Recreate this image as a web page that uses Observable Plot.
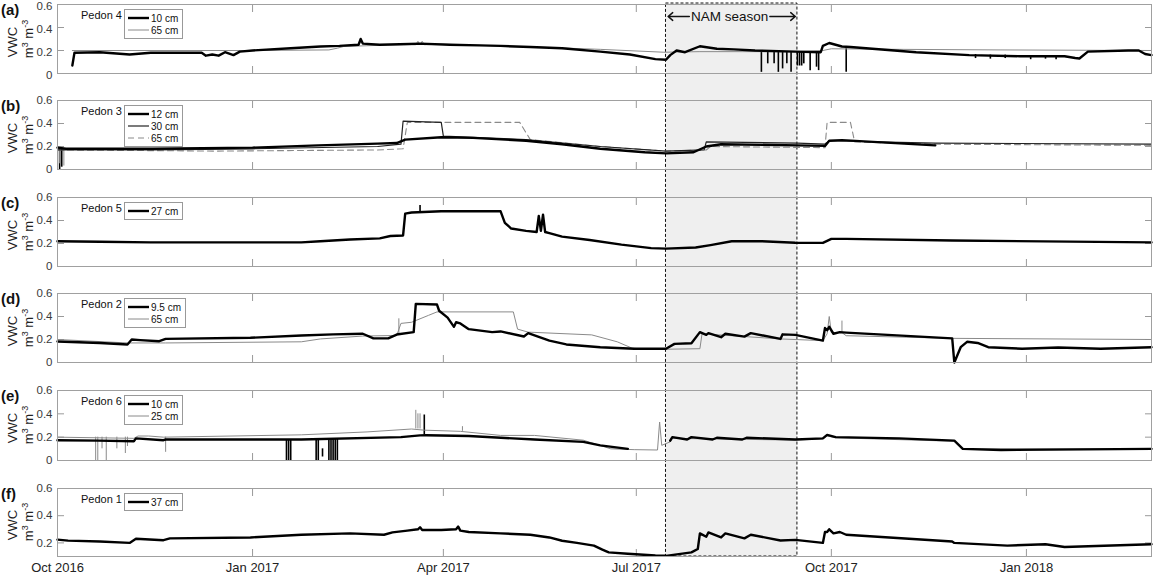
<!DOCTYPE html>
<html><head><meta charset="utf-8">
<script src="https://cdn.jsdelivr.net/npm/d3@7"></script>
<script src="https://cdn.jsdelivr.net/npm/@observablehq/plot@0.6"></script>
<style>
body{margin:0;background:#fff;font-family:"Liberation Sans",Arial,sans-serif;}
#chart{position:relative;width:1154px;height:576px;overflow:hidden;background:#fff}
#chart > svg{position:absolute;left:0}
.tag{position:absolute;left:1px;font-weight:bold;font-size:15px;color:#111;line-height:1}
.ylab{position:absolute;transform:translate(-50%,-50%) rotate(-90deg);white-space:nowrap;color:#222;line-height:1}
.pedon{position:absolute;font-size:11px;color:#111;line-height:1}
.legend{position:absolute;border:1px solid #999;background:#fff;padding:2px 4px 2px 3px;font-size:10px;color:#111}
.legend .row{display:flex;align-items:center;height:12px}
#chart .legend svg{position:static;display:block;margin-right:2px}
</style></head>
<body><div id="chart"></div>
<script>
// ---------- data ----------
const xDomain = ["2016-10-01", "2018-03-01"];
const xTickDates = ["2016-10-01","2017-01-01","2017-04-01","2017-07-01","2017-10-01","2018-01-01"];
const nam = {start: "2017-07-15", end: "2017-09-15", label: "NAM season", mid: "2017-08-14"};
const namArrows = [["2017-07-26","2017-07-16"],["2017-09-02","2017-09-14"]];

// Panel (a) Pedon 4
const a10 = [["2016-10-08",0.07],["2016-10-09",0.18],["2016-10-21",0.185],["2016-11-04",0.165],["2016-11-14",0.18],["2016-12-08",0.18],["2016-12-10",0.155],["2016-12-13",0.165],["2016-12-16",0.155],["2016-12-19",0.185],["2016-12-23",0.16],["2016-12-26",0.19],["2017-01-01",0.2],["2017-01-19",0.22],["2017-02-02",0.235],["2017-02-11",0.24],["2017-02-20",0.25],["2017-02-21",0.30],["2017-02-22",0.26],["2017-03-02",0.25],["2017-03-21",0.26],["2017-04-04",0.25],["2017-04-18",0.245],["2017-04-28",0.24],["2017-05-12",0.23],["2017-05-27",0.22],["2017-06-14",0.19],["2017-06-28",0.165],["2017-07-10",0.125],["2017-07-15",0.12],["2017-07-17",0.16],["2017-07-20",0.2],["2017-07-24",0.185],["2017-07-31",0.237],["2017-08-08",0.215],["2017-08-16",0.21],["2017-08-26",0.2],["2017-09-14",0.19],["2017-09-26",0.185],["2017-09-27",0.24],["2017-09-30",0.265],["2017-10-06",0.235],["2017-10-10",0.23],["2017-11-10",0.185],["2017-12-05",0.16],["2017-12-29",0.15],["2018-01-19",0.15],["2018-01-24",0.135],["2018-01-26",0.13],["2018-01-30",0.19],["2018-02-18",0.2],["2018-02-23",0.2],["2018-02-26",0.17],["2018-03-01",0.16]];
const a65 = [["2016-10-08",0.2],["2017-01-01",0.2],["2017-02-06",0.205],["2017-02-10",0.22],["2017-02-13",0.235],["2017-03-02",0.245],["2017-03-19",0.25],["2017-03-20",0.28],["2017-03-21",0.25],["2017-03-22",0.28],["2017-03-23",0.25],["2017-03-31",0.255],["2017-04-18",0.245],["2017-05-22",0.225],["2017-06-14",0.21],["2017-07-14",0.185],["2017-07-31",0.19],["2017-09-14",0.19],["2017-09-27",0.2],["2017-10-01",0.215],["2017-11-02",0.21],["2017-12-20",0.205],["2018-03-01",0.2]];
const a10Drops = [["2017-08-29",0.01,0.19],["2017-09-01",0.084,0.19],["2017-09-04",0.084,0.19],["2017-09-06",0.01,0.19],["2017-09-08",0.04,0.19],["2017-09-10",0.084,0.19],["2017-09-12",0.01,0.19],["2017-09-15",0.065,0.19],["2017-09-16",0.065,0.19],["2017-09-17",0.065,0.19],["2017-09-18",0.084,0.19],["2017-09-21",0.025,0.19],["2017-09-24",0.055,0.19],["2017-09-25",0.025,0.19],["2017-10-08",0.01,0.23],["2017-12-08",0.13,0.165],["2017-12-15",0.125,0.16],["2017-12-22",0.13,0.16],["2018-01-03",0.12,0.155],["2018-01-10",0.125,0.155],["2018-01-15",0.12,0.155]];

// Panel (b) Pedon 3
const b12 = [["2016-10-01",0.19],["2016-10-05",0.18],["2016-11-15",0.18],["2017-01-01",0.19],["2017-02-01",0.21],["2017-03-01",0.225],["2017-03-10",0.23],["2017-03-14",0.26],["2017-03-31",0.28],["2017-04-15",0.275],["2017-05-10",0.25],["2017-05-27",0.22],["2017-06-14",0.18],["2017-07-05",0.15],["2017-07-15",0.14],["2017-07-28",0.15],["2017-08-03",0.2],["2017-08-10",0.22],["2017-09-15",0.21],["2017-09-28",0.205],["2017-09-30",0.25],["2017-10-06",0.255],["2017-11-19",0.21]];
const b30 = [["2016-10-01",0.17],["2016-11-15",0.17],["2017-01-01",0.18],["2017-03-01",0.2],["2017-03-12",0.22],["2017-03-13",0.42],["2017-03-31",0.41],["2017-04-01",0.29],["2017-05-10",0.26],["2017-06-14",0.2],["2017-07-15",0.16],["2017-08-02",0.17],["2017-08-03",0.24],["2017-09-15",0.23],["2017-09-28",0.22],["2017-09-30",0.25],["2017-11-19",0.23],["2018-03-01",0.22]];
const b65 = [["2016-10-01",0.17],["2016-12-15",0.16],["2017-03-01",0.17],["2017-03-13",0.18],["2017-03-15",0.41],["2017-05-07",0.41],["2017-05-12",0.26],["2017-06-14",0.2],["2017-07-15",0.16],["2017-08-03",0.17],["2017-08-05",0.2],["2017-09-28",0.19],["2017-09-29",0.41],["2017-10-10",0.41],["2017-10-12",0.24],["2017-11-20",0.22],["2018-03-01",0.21]];
const b12Drops = [["2016-10-02",0.0,0.18],["2016-10-03",0.02,0.18]];
const b65Drops = [["2016-10-02",0.05,0.17],["2016-10-04",0.03,0.17]];

// Panel (c) Pedon 5
const c27 = [["2016-10-01",0.22],["2016-10-21",0.215],["2016-11-14",0.21],["2017-01-24",0.21],["2017-02-02",0.22],["2017-02-16",0.235],["2017-03-02",0.245],["2017-03-07",0.265],["2017-03-13",0.27],["2017-03-14",0.46],["2017-03-17",0.47],["2017-03-31",0.48],["2017-04-28",0.48],["2017-04-30",0.38],["2017-05-03",0.33],["2017-05-10",0.31],["2017-05-15",0.3],["2017-05-16",0.44],["2017-05-17",0.31],["2017-05-18",0.45],["2017-05-19",0.3],["2017-05-21",0.29],["2017-05-27",0.26],["2017-06-09",0.23],["2017-06-24",0.19],["2017-07-08",0.16],["2017-07-15",0.155],["2017-07-29",0.165],["2017-08-05",0.186],["2017-08-15",0.22],["2017-08-29",0.22],["2017-09-14",0.207],["2017-09-27",0.205],["2017-10-01",0.24],["2017-10-08",0.24],["2017-11-27",0.226],["2018-03-01",0.21]];
const c27Drops = [["2017-03-21",0.47,0.53]];

// Panel (d) Pedon 2
const d95 = [["2016-10-01",0.183],["2016-10-21",0.17],["2016-11-03",0.157],["2016-11-05",0.2],["2016-11-09",0.195],["2016-11-18",0.185],["2016-11-21",0.205],["2016-12-31",0.215],["2017-01-24",0.235],["2017-02-08",0.245],["2017-02-22",0.25],["2017-02-27",0.21],["2017-03-06",0.21],["2017-03-10",0.243],["2017-03-18",0.264],["2017-03-19",0.51],["2017-03-29",0.504],["2017-03-30",0.45],["2017-04-03",0.39],["2017-04-06",0.31],["2017-04-07",0.35],["2017-04-09",0.34],["2017-04-13",0.29],["2017-04-24",0.264],["2017-04-28",0.27],["2017-05-09",0.226],["2017-05-11",0.255],["2017-05-21",0.19],["2017-05-29",0.157],["2017-06-14",0.133],["2017-06-30",0.12],["2017-07-15",0.12],["2017-07-19",0.162],["2017-07-27",0.168],["2017-07-31",0.264],["2017-08-03",0.24],["2017-08-04",0.255],["2017-08-10",0.22],["2017-08-12",0.25],["2017-08-21",0.225],["2017-08-24",0.255],["2017-09-07",0.205],["2017-09-08",0.245],["2017-09-14",0.24],["2017-09-27",0.19],["2017-09-28",0.3],["2017-09-29",0.28],["2017-09-30",0.31],["2017-10-02",0.25],["2017-10-05",0.264],["2017-10-08",0.26],["2017-11-27",0.21],["2017-11-28",0.0],["2017-12-01",0.133],["2017-12-04",0.18],["2017-12-09",0.17],["2017-12-14",0.133],["2017-12-30",0.12],["2018-01-16",0.13],["2018-02-05",0.12],["2018-03-01",0.133]];
const d65 = [["2016-10-01",0.2],["2016-11-03",0.17],["2016-11-21",0.17],["2017-01-24",0.18],["2017-02-02",0.205],["2017-02-22",0.23],["2017-03-10",0.235],["2017-03-12",0.34],["2017-03-17",0.35],["2017-03-25",0.41],["2017-03-29",0.44],["2017-05-04",0.44],["2017-05-06",0.29],["2017-05-11",0.264],["2017-06-10",0.24],["2017-06-22",0.18],["2017-06-29",0.125],["2017-07-07",0.113],["2017-07-31",0.12],["2017-08-01",0.25],["2017-09-07",0.205],["2017-09-27",0.19],["2017-09-29",0.25],["2017-09-30",0.4],["2017-10-01",0.26],["2017-10-06",0.26],["2017-10-08",0.233],["2017-11-27",0.21],["2018-03-01",0.2]];
const d65Drops = [["2017-03-11",0.235,0.38],["2017-10-06",0.26,0.36]];

// Panel (e) Pedon 6
const e10 = [["2016-10-01",0.174],["2016-10-20",0.17],["2016-11-06",0.165],["2016-11-07",0.19],["2016-11-20",0.174],["2016-11-21",0.18],["2017-01-24",0.18],["2017-03-12",0.2],["2017-03-21",0.215],["2017-03-24",0.217],["2017-04-13",0.21],["2017-05-14",0.18],["2017-06-06",0.16],["2017-06-14",0.13],["2017-06-27",0.1],["2017-07-05",null],["2017-07-17",0.17],["2017-07-18",0.2],["2017-07-25",0.18],["2017-07-27",0.2],["2017-08-06",0.18],["2017-08-08",0.195],["2017-08-20",0.18],["2017-08-22",0.195],["2017-09-14",0.18],["2017-09-27",0.19],["2017-09-29",0.22],["2017-10-03",0.2],["2017-11-02",0.19],["2017-11-28",0.17],["2017-12-02",0.1],["2017-12-20",0.09],["2018-03-01",0.1]];
const e25 = [["2016-10-01",0.2],["2016-11-06",0.19],["2016-11-08",0.21],["2016-11-13",0.21],["2016-11-20",0.2],["2017-01-24",0.22],["2017-02-24",0.245],["2017-03-17",0.27],["2017-03-23",0.26],["2017-04-09",0.25],["2017-04-28",0.215],["2017-05-14",0.215],["2017-06-06",0.174],["2017-06-19",0.1],["2017-06-30",0.093],["2017-07-11",0.09],["2017-07-12",0.33],["2017-07-13",0.13],["2017-07-17",0.16],["2017-07-18",0.19],["2017-09-14",0.175],["2017-09-27",0.185],["2017-09-29",0.21],["2017-10-03",0.195],["2017-11-28",0.165],["2017-12-02",0.1],["2018-03-01",0.1]];
const e10Drops = [["2017-01-17",0,0.18],["2017-01-18",0,0.18],["2017-01-19",0,0.18],["2017-01-31",0,0.18],["2017-02-01",0,0.18],["2017-02-03",0.03,0.1],["2017-02-06",0,0.18],["2017-02-07",0,0.18],["2017-02-08",0,0.18],["2017-02-09",0,0.18],["2017-02-10",0,0.18],["2017-03-23",0.217,0.39]];
const e25Drops = [["2016-10-19",0,0.2],["2016-10-20",0,0.2],["2016-10-22",0.1,0.2],["2016-10-24",0,0.2],["2016-10-29",0.1,0.2],["2016-11-02",0.06,0.2],["2016-11-03",0.12,0.2],["2016-11-21",0.07,0.2],["2017-03-19",0.27,0.43],["2017-03-20",0.27,0.4],["2017-03-21",0.27,0.4],["2017-04-10",0.25,0.29]];

// Panel (f) Pedon 1
const f37 = [["2016-10-01",0.224],["2016-10-06",0.217],["2016-10-21",0.21],["2016-11-04",0.2],["2016-11-07",0.23],["2016-11-20",0.22],["2016-11-23",0.233],["2016-12-31",0.24],["2017-01-24",0.26],["2017-02-16",0.27],["2017-03-04",0.26],["2017-03-08",0.277],["2017-03-15",0.29],["2017-03-20",0.3],["2017-03-21",0.315],["2017-03-22",0.295],["2017-03-31",0.295],["2017-04-07",0.3],["2017-04-08",0.32],["2017-04-09",0.29],["2017-04-13",0.28],["2017-04-28",0.27],["2017-05-12",0.26],["2017-05-21",0.24],["2017-05-27",0.216],["2017-06-03",0.2],["2017-06-11",0.18],["2017-06-15",0.15],["2017-06-18",0.13],["2017-06-27",0.12],["2017-07-10",0.107],["2017-07-15",0.105],["2017-07-27",0.13],["2017-07-30",0.155],["2017-07-31",0.27],["2017-08-03",0.245],["2017-08-04",0.277],["2017-08-10",0.24],["2017-08-12",0.27],["2017-08-21",0.233],["2017-08-24",0.26],["2017-09-07",0.218],["2017-09-14",0.222],["2017-09-27",0.2],["2017-09-28",0.28],["2017-09-29",0.28],["2017-09-30",0.3],["2017-10-02",0.27],["2017-10-05",0.28],["2017-10-08",0.26],["2017-11-27",0.21],["2017-11-28",0.2],["2017-12-23",0.18],["2018-01-10",0.19],["2018-01-19",0.17],["2018-03-01",0.19]];

// ---------- styles ----------
const THICK = {stroke: "#000", strokeWidth: 2.4};
const THIN_GRAY = {stroke: "#8a8a8a", strokeWidth: 1};
const THIN_BLACK = {stroke: "#222", strokeWidth: 1.2};
const DASH_GRAY = {stroke: "#8a8a8a", strokeWidth: 1.1, strokeDasharray: "6,4"};
const DROP_THICK = {stroke: "#000", strokeWidth: 1.6};
const DROP_GRAY = {stroke: "#8a8a8a", strokeWidth: 1};

const panels = [
  {tag: "(a)", pedon: "Pedon 4", top: 4, bottom: 73, yDomain: [0, 0.6], yTicks: [0, 0.2, 0.4, 0.6], labelDy: 1.5,
   lines: [[a65, THIN_GRAY], [a10, THICK]], drops: [[a10Drops, DROP_THICK]],
   legend: [["10 cm", THICK], ["65 cm", THIN_GRAY]]},
  {tag: "(b)", pedon: "Pedon 3", top: 100, bottom: 169, yDomain: [0, 0.6], yTicks: [0, 0.2, 0.4, 0.6],
   lines: [[b65, DASH_GRAY], [b30, THIN_BLACK], [b12, THICK]], drops: [[b12Drops, DROP_THICK], [b65Drops, DROP_GRAY]],
   legend: [["12 cm", THICK], ["30 cm", THIN_BLACK], ["65 cm", DASH_GRAY]]},
  {tag: "(c)", pedon: "Pedon 5", top: 197, bottom: 266, yDomain: [0, 0.6], yTicks: [0, 0.2, 0.4, 0.6],
   lines: [[c27, THICK]], drops: [[c27Drops, DROP_THICK]],
   legend: [["27 cm", THICK]]},
  {tag: "(d)", pedon: "Pedon 2", top: 293, bottom: 362, yDomain: [0, 0.6], yTicks: [0, 0.2, 0.4, 0.6],
   lines: [[d65, THIN_GRAY], [d95, THICK]], drops: [[d65Drops, DROP_GRAY]],
   legend: [["9.5 cm", THICK], ["65 cm", THIN_GRAY]]},
  {tag: "(e)", pedon: "Pedon 6", top: 390, bottom: 460, yDomain: [0, 0.6], yTicks: [0, 0.2, 0.4, 0.6],
   lines: [[e25, THIN_GRAY], [e10, THICK]], drops: [[e25Drops, DROP_GRAY], [e10Drops, DROP_THICK]],
   legend: [["10 cm", THICK], ["25 cm", THIN_GRAY]]},
  {tag: "(f)", pedon: "Pedon 1", top: 488, bottom: 556, yDomain: [0.1, 0.6], yTicks: [0.2, 0.4, 0.6],
   lines: [[f37, THICK]], drops: [],
   legend: [["37 cm", THICK]], last: true}
];

// ---------- drawing ----------
const W = 1154, ML = 57, MR = 3;
const D = s => new Date(s);
const xDom = xDomain.map(D);
const xTicks = xTickDates.map(D);
const fmtY = d => d === 0 ? "0" : d3.format(".1f")(d);
const chart = document.getElementById("chart");
const FONT = "'Liberation Sans', Arial, sans-serif";

// NAM season overlay (behind panels)
const overlay = Plot.plot({
  width: W, height: 576, marginLeft: ML, marginRight: MR, marginTop: 3, marginBottom: 20,
  style: {background: "transparent", fontFamily: FONT},
  x: {type: "utc", domain: xDom, axis: null},
  y: {domain: [0, 1], axis: null},
  marks: [
    Plot.rect([nam], {x1: d => D(d.start), x2: d => D(d.end), y1: 0, y2: 1, fill: "#efefef", stroke: "#111", strokeWidth: 1, strokeDasharray: "3,2"}),
    Plot.text([nam], {x: d => D(d.mid), y: 1, dy: 13, text: "label", fontSize: 13.5, fill: "#111"}),
    Plot.arrow(namArrows, {x1: d => D(d[0]), x2: d => D(d[1]), y1: 1, y2: 1, dy: 13, stroke: "#111", strokeWidth: 1.5, headLength: 6, headAngle: 80})
  ]
});
overlay.style.top = "0px";
chart.appendChild(overlay);

for (const p of panels) {
  const mt = 8, mb = p.last ? 22 : 8;
  const h = p.bottom - p.top;
  const marks = [
    Plot.axisX({ticks: xTicks, anchor: "bottom", tickSize: -7, tickFormat: () => "", color: "#9a9a9a", label: null}),
    Plot.axisX({ticks: xTicks, anchor: "top", tickSize: -7, tickFormat: () => "", color: "#9a9a9a", label: null}),
    Plot.axisY({ticks: p.yTicks, anchor: "left", tickSize: -7, tickFormat: () => "", color: "#9a9a9a", label: null}),
    Plot.axisY({ticks: p.yTicks, anchor: "right", tickSize: -7, tickFormat: () => "", color: "#9a9a9a", label: null}),
    Plot.axisY({ticks: p.yTicks, anchor: "left", tickSize: 0, tickPadding: 5, tickFormat: fmtY, color: "#3a3a3a", fontSize: 11.5, dy: p.labelDy || 0, label: null})
  ];
  if (p.last) marks.push(Plot.axisX({ticks: xTicks, anchor: "bottom", tickSize: 0, tickPadding: 6, tickFormat: d3.utcFormat("%b %Y"), color: "#222", fontSize: 13, label: null}));
  for (const [data, st] of p.drops) {
    marks.push(Plot.ruleX(data, {x: d => D(d[0]), y1: d => d[1], y2: d => d[2], ...st}));
  }
  for (const [data, st] of p.lines) {
    marks.push(Plot.line(data, {x: d => D(d[0]), y: d => d[1], ...st, strokeLinejoin: "round"}));
  }
  marks.push(Plot.frame({stroke: "#a0a0a0"}));
  const svg = Plot.plot({
    width: W, height: mt + h + mb, marginLeft: ML, marginRight: MR, marginTop: mt, marginBottom: mb,
    style: {background: "transparent", fontFamily: FONT, overflow: "visible"},
    x: {type: "utc", domain: xDom},
    y: {domain: p.yDomain},
    marks
  });
  svg.style.top = (p.top - mt) + "px";
  chart.appendChild(svg);

  const mid = (p.top + p.bottom) / 2;
  const tag = document.createElement("div");
  tag.className = "tag"; tag.textContent = p.tag; tag.style.top = (p.top - 2) + "px";
  chart.appendChild(tag);
  const v = document.createElement("div");
  v.className = "ylab"; v.textContent = "VWC"; v.style.left = "12px"; v.style.top = (mid + 3) + "px"; v.style.fontSize = "13px";
  chart.appendChild(v);
  const u = document.createElement("div");
  u.className = "ylab"; u.innerHTML = "m<sup style='font-size:9px'>3</sup> m<sup style='font-size:9px'>-3</sup>"; u.style.left = "28px"; u.style.top = mid + "px"; u.style.fontSize = "13px";
  chart.appendChild(u);
  const ped = document.createElement("div");
  ped.className = "pedon"; ped.textContent = p.pedon; ped.style.left = "81px"; ped.style.top = (p.top + 6) + "px";
  chart.appendChild(ped);
  const lg = document.createElement("div");
  lg.className = "legend"; lg.style.left = "124px"; lg.style.top = (p.top + 5) + "px";
  for (const [name, st] of p.legend) {
    const row = document.createElement("div"); row.className = "row";
    row.innerHTML = `<svg width="21" height="8"><line x1="0" x2="21" y1="4" y2="4" stroke="${st.stroke}" stroke-width="${st.strokeWidth}" ${st.strokeDasharray ? `stroke-dasharray="${st.strokeDasharray}"` : ""}/></svg><span>${name}</span>`;
    lg.appendChild(row);
  }
  chart.appendChild(lg);
}
</script></body></html>
